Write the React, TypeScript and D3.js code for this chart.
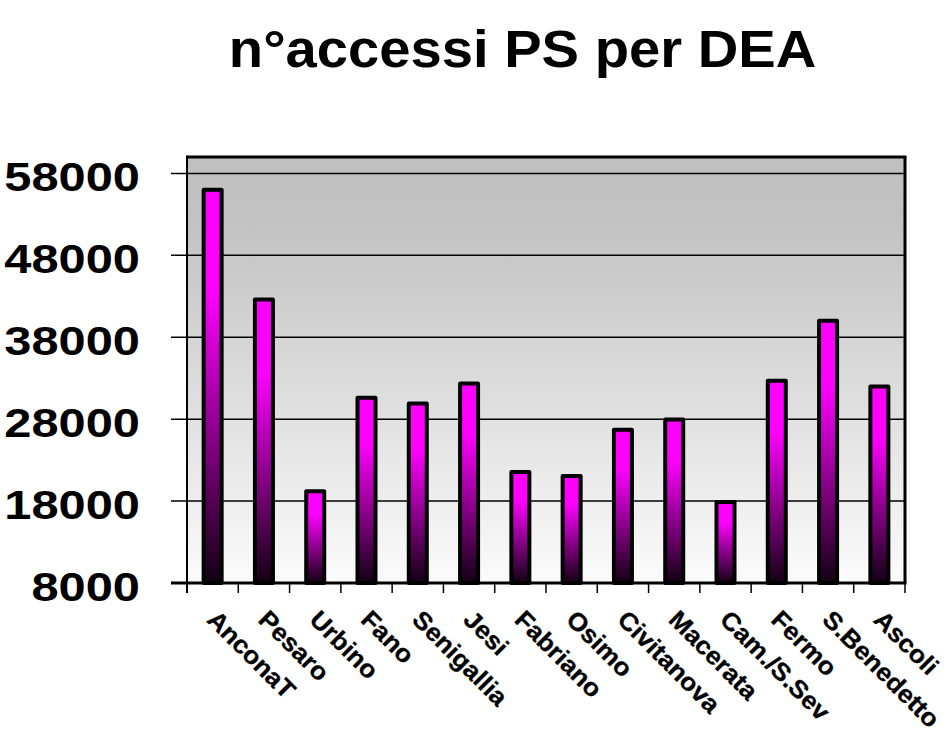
import React from "react";
import * as d3 from "d3";

const categories = ["AnconaT", "Pesaro", "Urbino", "Fano", "Senigallia", "Jesi", "Fabriano", "Osimo", "Civitanova", "Macerata", "Cam./S.Sev", "Fermo", "S.Benedetto", "Ascoli"];
const values = [56000, 42600, 19200, 30600, 29900, 32350, 21550, 21050, 26700, 27950, 17900, 32700, 40000, 32000];
const yTicks = [8000, 18000, 28000, 38000, 48000, 58000];
const title = "n°accessi PS per DEA";

const W = 944, H = 747;
const plot = { left: 187, right: 905, top: 157, bottom: 583 };
const FONT = "Arial, 'Liberation Sans', Helvetica, sans-serif";

export default function App() {
  const x = d3.scaleBand<string>().domain(categories).range([plot.left, plot.right]).padding(0);
  const y = d3.scaleLinear().domain([8000, 60000]).range([plot.bottom, plot.top]);
  const bw = x.bandwidth();
  const barW = 18;
  const boundaries = d3.range(categories.length + 1).map((i) => plot.left + i * bw);

  return (
    <svg width={W} height={H} style={{ position: "absolute", left: 0, top: 0, display: "block", background: "#fff" }}>
      <defs>
        <linearGradient id="bg" x1="0" y1="0" x2="0" y2="1">
          <stop offset="0%" stopColor="#c0c0c0" />
          <stop offset="15%" stopColor="#c2c2c2" />
          <stop offset="100%" stopColor="#fbfbfb" />
        </linearGradient>
        <linearGradient id="bar" x1="0" y1="0" x2="0" y2="1">
          <stop offset="0%" stopColor="#ff00ff" />
          <stop offset="25%" stopColor="#ff00ff" />
          <stop offset="100%" stopColor="#120012" />
        </linearGradient>
      </defs>

      <text transform={`translate(522.5,67) scale(1.08,1)`} textAnchor="middle" fontFamily={FONT} fontWeight="bold" fontSize={52} fill="#000">
        {title}
      </text>

      <rect x={plot.left} y={plot.top} width={plot.right - plot.left} height={plot.bottom - plot.top} fill="url(#bg)" />

      {yTicks.map((t) => (
        <line key={"g" + t} x1={plot.left - 16} x2={plot.right} y1={y(t)} y2={y(t)} stroke="#000" strokeWidth={1.5} />
      ))}

      {yTicks.map((t) => (
        <text key={"t" + t} transform={`translate(140,${y(t) + 17.5}) scale(1.22,1)`} textAnchor="end" fontFamily={FONT} fontWeight="bold" fontSize={40} fill="#000">
          {t}
        </text>
      ))}

      {categories.map((c, i) => {
        const cx = (x(c) as number) + bw / 2;
        const yt = y(values[i]);
        return (
          <rect key={"b" + c} x={cx - barW / 2} y={yt} width={barW} height={plot.bottom - yt} fill="url(#bar)" stroke="#000" strokeWidth={4} strokeLinejoin="round" />
        );
      })}

      {/* frame */}
      <line x1={plot.left} x2={plot.right + 1.5} y1={plot.top} y2={plot.top} stroke="#000" strokeWidth={3} />
      <line x1={plot.right} x2={plot.right} y1={plot.top} y2={plot.bottom} stroke="#000" strokeWidth={3} />
      <line x1={plot.left} x2={plot.left} y1={plot.top - 1.5} y2={plot.bottom + 10} stroke="#000" strokeWidth={2} />
      <line x1={plot.left - 16} x2={plot.right + 1.5} y1={plot.bottom} y2={plot.bottom} stroke="#000" strokeWidth={3} />

      {boundaries.map((bx, i) => (
        <line key={"xt" + i} x1={bx} x2={bx} y1={plot.bottom} y2={plot.bottom + 10} stroke="#000" strokeWidth={1.5} />
      ))}

      {categories.map((c) => {
        const cx = (x(c) as number) + bw / 2;
        return (
          <text key={"l" + c} transform={`translate(${cx - 7},621) rotate(45) scale(1.05,1)`} textAnchor="start" fontFamily={FONT} fontWeight="bold" fontSize={25} fill="#000" stroke="#000" strokeWidth={0.3}>
            {c}
          </text>
        );
      })}
    </svg>
  );
}
